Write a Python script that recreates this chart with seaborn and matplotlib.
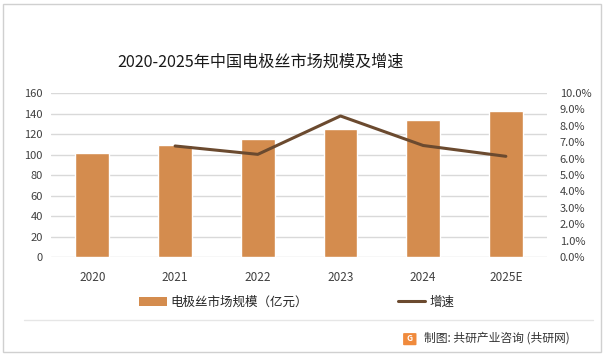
import matplotlib
matplotlib.use("Agg")
import matplotlib.pyplot as plt
import seaborn as sns
from matplotlib.patches import Patch, Rectangle, FancyBboxPatch
from matplotlib.lines import Line2D
from matplotlib.ticker import FuncFormatter

# data
years = ["2020", "2021", "2022", "2023", "2024", "2025E"]
market_size = [101, 109, 115.6, 125, 133.7, 142]       # 亿元
growth_years = ["2021", "2022", "2023", "2024", "2025E"]
growth_rate = [6.77, 6.26, 8.6, 6.8, 6.14]              # %

bar_color = "#D48C4E"
line_color = "#6B4A2F"
grid_color = "#D9D9D9"
text_color = "#404040"

sns.set_style("white")
plt.rcParams["font.family"] = ["Noto Sans CJK SC", "DejaVu Sans"]

fig = plt.figure(figsize=(6.08, 3.57), dpi=100)
ax = fig.add_axes([0.084, 0.28, 0.816, 0.4595])

# bars
sns.barplot(x=years, y=market_size, color=bar_color, width=0.41,
            saturation=1, ax=ax, zorder=2)
ax.set_ylim(0, 160)
ax.set_yticks(range(0, 161, 20))
ax.grid(axis="y", color=grid_color, linewidth=1, zorder=0)
ax.set_axisbelow(True)
for s in ax.spines.values():
    s.set_visible(False)
ax.tick_params(axis="both", length=0, labelsize=8, colors=text_color)
ax.tick_params(axis="x", pad=10, labelsize=8.5)
ax.tick_params(axis="y", pad=6)
ax.set_xlabel("")
ax.set_ylabel("")

# growth line on secondary axis
ax2 = ax.twinx()
sns.pointplot(x=growth_years, y=growth_rate, order=years, color=line_color,
              markers="", linewidth=2.2, ax=ax2, errorbar=None)
ax2.set_ylim(0, 10)
ax2.set_yticks(range(0, 11, 1))
ax2.yaxis.set_major_formatter(FuncFormatter(lambda v, p: f"{v:.1f}%"))
for s in ax2.spines.values():
    s.set_visible(False)
ax2.tick_params(axis="y", length=0, labelsize=8, colors=text_color, pad=9)
ax2.set_ylabel("")
ax2.set_xlim(ax.get_xlim())

# title
fig.text(0.428, 0.826, "2020-2025年中国电极丝市场规模及增速", ha="center", va="center",
         fontsize=11.6, color="#1a1a1a")

# legend
handles = [Patch(facecolor=bar_color, edgecolor="none"),
           Line2D([0], [0], color=line_color, linewidth=2.2)]
fig.legend(handles, ["电极丝市场规模（亿元）", "增速"], loc="center",
           bbox_to_anchor=(0.488, 0.154), ncol=2, frameon=False, fontsize=9,
           columnspacing=7.2, handlelength=2.2, handletextpad=0.3)

# outer border and separator line
fig.add_artist(Rectangle((0.005, 0.014), 0.984, 0.975, transform=fig.transFigure,
                         fill=False, edgecolor="#D0D0D0", linewidth=1))
fig.add_artist(Line2D([0.04, 0.975], [0.103, 0.103], transform=fig.transFigure,
                      color="#E6E6E6", linewidth=1))

# source note with small logo
fig.add_artist(FancyBboxPatch((0.665, 0.035), 0.018, 0.03, transform=fig.transFigure,
                              boxstyle="round,pad=0.002", facecolor="#F08A3C",
                              edgecolor="none"))
fig.text(0.674, 0.051, "G", ha="center", va="center", fontsize=6,
         color="white", fontweight="bold")
fig.text(0.698, 0.053, "制图: 共研产业咨询 (共研网)", ha="left", va="center",
         fontsize=8.5, color="#333333")

fig.savefig("out.png", dpi=100, facecolor="white")
